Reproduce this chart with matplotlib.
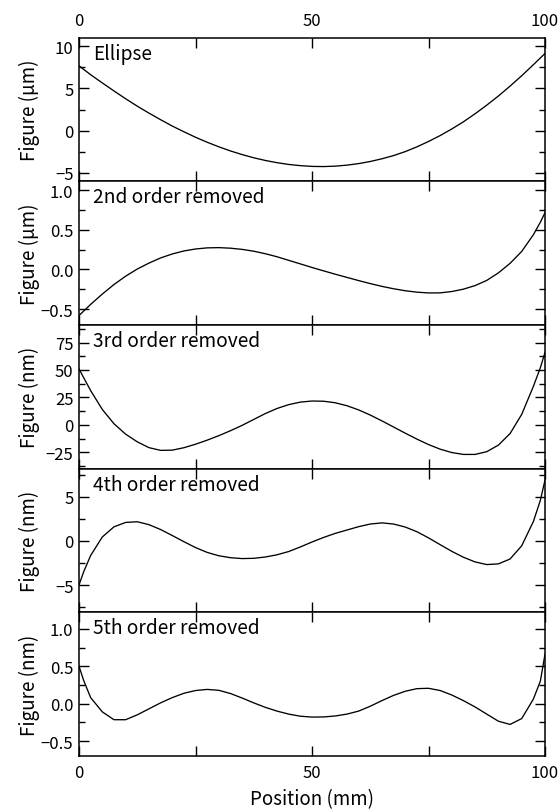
import matplotlib
matplotlib.use("Agg")
import matplotlib.pyplot as plt
from matplotlib.ticker import MultipleLocator, FuncFormatter

plt.rcParams['font.family'] = ['Noto Sans CJK JP', 'DejaVu Sans']

# Position (mm)
position = [0, 1, 2.5, 5, 7.5, 10, 12.5, 15, 17.5, 20, 22.5, 25, 27.5, 30, 32.5, 35,
            37.5, 40, 42.5, 45, 47.5, 50, 52.5, 55, 57.5, 60, 62.5, 65, 67.5, 70,
            72.5, 75, 77.5, 80, 82.5, 85, 87.5, 90, 92.5, 95, 97.5, 99, 100]

# Ellipse (um)
ellipse = [7.68, 7.25, 6.62, 5.65, 4.7, 3.78, 2.9, 2.08, 1.3, 0.55, -0.13, -0.78, -1.37,
           -1.91, -2.4, -2.83, -3.21, -3.53, -3.79, -4.0, -4.14, -4.23, -4.25, -4.2,
           -4.08, -3.9, -3.65, -3.33, -2.95, -2.48, -1.92, -1.28, -0.58, 0.2, 1.05,
           2.0, 3.02, 4.1, 5.27, 6.5, 7.8, 8.6, 9.13]

# 2nd order removed (um)
second = [-0.58, -0.524, -0.44, -0.31, -0.19, -0.085, 0.005, 0.08, 0.145, 0.195, 0.233,
          0.258, 0.272, 0.275, 0.268, 0.253, 0.23, 0.198, 0.16, 0.115, 0.07, 0.025,
          -0.018, -0.06, -0.1, -0.14, -0.178, -0.213, -0.243, -0.268, -0.286, -0.296,
          -0.295, -0.278, -0.248, -0.203, -0.138, -0.043, 0.077, 0.227, 0.437, 0.595,
          0.715]

# 3rd order removed (nm)
third = [51, 43, 31.2, 14, 1.0, -8.5, -15.5, -20.8, -23.3, -23.1, -20.9, -17.7, -14,
         -9.9, -5.4, -0.5, 4.9, 10.3, 14.9, 18.4, 20.7, 21.7, 21.5, 20.1, 17.4, 13.6,
         8.9, 3.6, -2.0, -7.6, -13, -18, -22.2, -25.3, -27, -27, -24.5, -18.5, -8,
         9.5, 35, 52, 66]

# 4th order removed (nm)
fourth = [-5.0, -3.5, -1.65, 0.45, 1.6, 2.1, 2.18, 1.85, 1.3, 0.62, -0.08, -0.75, -1.3,
          -1.68, -1.9, -2.0, -1.97, -1.82, -1.57, -1.2, -0.68, -0.12, 0.4, 0.86, 1.24,
          1.62, 1.92, 2.05, 1.92, 1.58, 1.05, 0.35, -0.42, -1.18, -1.85, -2.38, -2.68,
          -2.6, -2.05, -0.55, 2.2, 4.6, 6.9]

# 5th order removed (nm)
fifth = [0.5, 0.31, 0.08, -0.11, -0.215, -0.215, -0.15, -0.07, 0.01, 0.08, 0.138, 0.175,
         0.19, 0.178, 0.135, 0.075, 0.01, -0.05, -0.1, -0.14, -0.168, -0.18, -0.178,
         -0.165, -0.14, -0.1, -0.035, 0.04, 0.11, 0.165, 0.2, 0.205, 0.175, 0.115, 0.04,
         -0.045, -0.14, -0.235, -0.278, -0.2, 0.06, 0.3, 0.66]

series = [ellipse, second, third, fourth, fifth]
panel_titles = ["Ellipse", "2nd order removed", "3rd order removed",
                "4th order removed", "5th order removed"]
ylabels = ["Figure (μm)", "Figure (μm)", "Figure (nm)", "Figure (nm)", "Figure (nm)"]
ylims = [(-6.0, 11.0), (-0.7, 1.11), (-40, 91), (-8.1, 8.2), (-0.7, 1.22)]
ymajor = [5, 0.5, 25, 5, 0.5]
yminor = [2.5, 0.25, 12.5, 2.5, 0.25]
yfmt = ["{:.0f}", "{:.1f}", "{:.0f}", "{:.0f}", "{:.1f}"]
xlabel = "Position (mm)"

fig = plt.figure(figsize=(5.59, 8.12), dpi=100)
left, right = 79 / 559, 545 / 559
top, bottom = 1 - 38.7 / 812, 1 - 757 / 812
h = (top - bottom) / 5

axes = []
for i in range(5):
    ax = fig.add_axes([left, top - (i + 1) * h, right - left, h])
    axes.append(ax)
    ax.plot(position, series[i], color='black', lw=0.95)
    ax.set_xlim(0, 100)
    ax.set_ylim(*ylims[i])
    ax.xaxis.set_major_locator(MultipleLocator(25))
    ax.yaxis.set_major_locator(MultipleLocator(ymajor[i]))
    ax.yaxis.set_minor_locator(MultipleLocator(yminor[i]))
    f = yfmt[i]
    ax.yaxis.set_major_formatter(FuncFormatter(lambda v, p, f=f: f.format(v).replace('-', '−')))
    ax.xaxis.set_major_formatter(FuncFormatter(lambda v, p: f"{v:.0f}" if v % 50 == 0 else ""))
    ax.tick_params(axis='both', which='major', direction='in', length=7, width=1.0,
                   top=True, right=True, labelsize=12, pad=4)
    ax.tick_params(axis='both', which='minor', direction='in', length=4, width=1.0,
                   top=True, right=True)
    ax.tick_params(axis='x', labelbottom=(i == 4), labeltop=(i == 0), pad=6)
    for s in ax.spines.values():
        s.set_linewidth(1.1)
    ax.set_ylabel(ylabels[i], fontsize=13.5)
    ax.yaxis.set_label_coords(-0.083, 0.5)
    ax.text(0.03, 0.965, panel_titles[i], transform=ax.transAxes, fontsize=13.8,
            ha='left', va='top')

axes[-1].set_xlabel(xlabel, fontsize=13.5, labelpad=5)
fig.savefig("out.png", dpi=100)
